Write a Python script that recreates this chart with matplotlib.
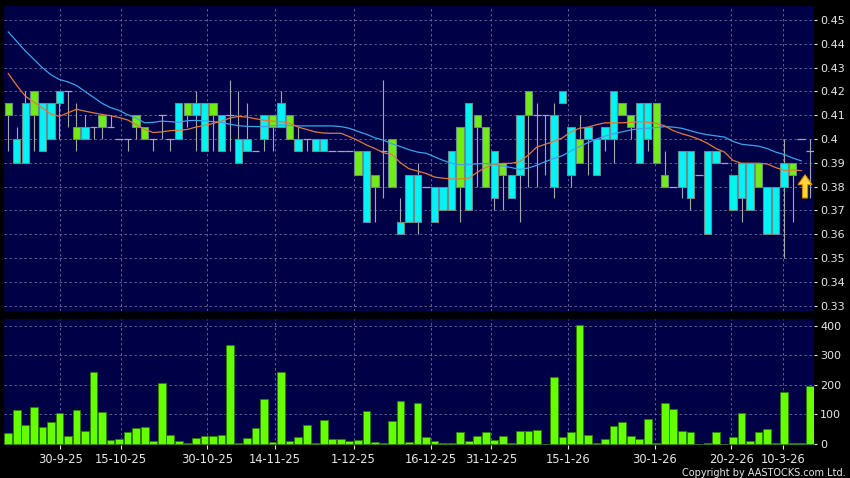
import matplotlib
matplotlib.use("Agg")
import matplotlib.pyplot as plt
from matplotlib.patches import FancyArrow
from matplotlib.ticker import FuncFormatter
import numpy as np

# daily OHLC (tick size 0.005)
opens = [.415, .39, .39, .42, .395, .40, .415, .42, .405, .40,
         .405, .41, .405, .40, .40, .41, .405, .40, .41, .40,
         .40, .415, .41, .395, .415, .395, .41, .39, .395, .395,
         .40, .41, .405, .41, .395, .40, .395, .395, .395, .395,
         .395, .395, .365, .385, .395, .40, .36, .365, .365, .38,
         .365, .37, .37, .405, .37, .41, .405, .375, .39, .375,
         .385, .42, .41, .41, .38, .415, .385, .40, .40, .385,
         .40, .40, .415, .41, .39, .40, .415, .385, .38, .38,
         .375, .385, .36, .39, .39, .37, .375, .37, .39, .36,
         .36, .38, .39, .40, .395]
closes = [.41, .40, .415, .41, .415, .415, .42, .42, .40, .405,
          .405, .405, .405, .40, .40, .405, .40, .40, .41, .40,
          .415, .41, .415, .415, .41, .41, .41, .40, .40, .395,
          .41, .405, .415, .40, .40, .40, .40, .40, .395, .395,
          .395, .385, .395, .38, .395, .38, .365, .385, .385, .38,
          .38, .38, .395, .38, .415, .405, .38, .395, .385, .385,
          .41, .41, .41, .41, .41, .42, .405, .39, .405, .40,
          .405, .42, .41, .405, .415, .415, .39, .38, .38, .395,
          .395, .385, .395, .395, .39, .385, .39, .39, .38, .38,
          .38, .39, .385, .40, .395]
highs = [.415, .405, .42, .42, .415, .415, .42, .42, .415, .41,
         .405, .41, .41, .40, .40, .41, .405, .40, .41, .40,
         .415, .415, .42, .415, .415, .41, .425, .42, .415, .395,
         .41, .41, .42, .41, .405, .40, .40, .40, .395, .395,
         .395, .395, .395, .385, .425, .40, .375, .385, .39, .38,
         .38, .38, .395, .405, .415, .41, .405, .395, .39, .385,
         .41, .42, .415, .41, .415, .42, .405, .41, .405, .40,
         .405, .42, .415, .41, .415, .415, .415, .395, .38, .395,
         .395, .385, .395, .395, .39, .385, .39, .39, .39, .38,
         .38, .40, .39, .40, .40]
lows = [.395, .39, .39, .395, .395, .40, .40, .405, .395, .40,
        .40, .40, .405, .40, .395, .40, .40, .395, .40, .395,
        .40, .405, .395, .395, .395, .395, .395, .39, .395, .395,
        .395, .395, .405, .40, .395, .395, .395, .395, .395, .395,
        .395, .385, .365, .365, .375, .38, .36, .365, .36, .38,
        .365, .37, .37, .365, .37, .38, .38, .37, .37, .375,
        .365, .38, .38, .385, .375, .415, .38, .39, .385, .385,
        .395, .39, .41, .40, .39, .395, .39, .38, .38, .375,
        .37, .385, .36, .39, .39, .37, .365, .37, .38, .36,
        .36, .35, .365, .40, .375]

# moving averages as drawn (last bar has none)
ma_long = [.4450, .4410, .4370, .4335, .4300, .4270, .4250, .4240, .4225, .4200,
           .4175, .4150, .4132, .4120, .4102, .4088, .4068, .4070, .4075, .4073,
           .4070, .4077, .4078, .4076, .4073, .4070, .4062, .4056, .4053, .4052,
           .4052, .4056, .4058, .4057, .4055, .4055, .4055, .4055, .4055, .4052,
           .4045, .4032, .4020, .4005, .3995, .3980, .3968, .3955, .3945, .3940,
           .3925, .3910, .3898, .3892, .3893, .3896, .3897, .3893, .3886, .3880,
           .3872, .3878, .3890, .3905, .3918, .3930, .3950, .3968, .3985, .4000,
           .4012, .4022, .4030, .4038, .4043, .4045, .4048, .4052, .4050, .4045,
           .4035, .4025, .4018, .4013, .4008, .3990, .3978, .3974, .3970, .3960,
           .3945, .3935, .3920, .3908]
ma_short = [.4275, .4225, .4180, .4155, .4130, .4105, .4095, .4110, .4125, .4117,
            .4110, .4103, .4098, .4090, .4080, .4060, .4040, .4027, .4030, .4035,
            .4037, .4040, .4050, .4057, .4065, .4075, .4088, .4095, .4092, .4085,
            .4079, .4075, .4072, .4067, .4050, .4040, .4030, .4025, .4024, .4024,
            .4010, .3994, .3975, .3960, .3942, .3935, .3900, .3875, .3865, .3855,
            .3840, .3835, .3832, .3832, .3835, .3860, .3880, .3895, .3897, .3898,
            .3905, .3933, .3966, .3978, .3990, .4005, .4030, .4045, .4050, .4060,
            .4068, .4068, .4068, .4070, .4073, .4070, .4066, .4055, .4035, .4022,
            .4012, .3999, .3982, .3960, .3945, .3910, .3898, .3898, .3898, .3895,
            .3880, .3868, .3870, .3867]

# volume ('000 shares)
volume = [37, 116, 64, 124, 56, 75, 103, 25, 114, 43,
          245, 109, 14, 17, 38, 52, 57, 10, 205, 28,
          10, 2, 20, 27, 25, 31, 335, 2, 20, 52,
          153, 5, 245, 10, 23, 65, 2, 82, 17, 17,
          9, 13, 112, 6, 2, 76, 146, 6, 139, 24,
          10, 2, 2, 38, 8, 27, 39, 14, 27, 2,
          42, 42, 48, 0, 226, 21, 41, 403, 30, 2,
          17, 59, 73, 27, 16, 84, 2, 137, 119, 42,
          38, 0, 3, 39, 0, 21, 105, 9, 38, 49,
          2, 174, 3, 1, 195]

date_labels = ["30-9-25", "15-10-25", "30-10-25", "14-11-25", "1-12-25", "16-12-25",
               "31-12-25", "15-1-26", "30-1-26", "20-2-26", "10-3-26"]
date_pos = [6.1, 13.2, 23.3, 31.3, 40.5, 49.6, 56.6, 65.7, 75.8, 84.8, 90.9]

price_ticks = [0.33, 0.34, 0.35, 0.36, 0.37, 0.38, 0.39, 0.40, 0.41, 0.42, 0.43, 0.44, 0.45]
vol_ticks = [0, 100, 200, 300, 400]

BG = "#000046"
GRID = "#6c6c9c"
CYAN = "#00f4f4"
LIME = "#70ee14"
VOLG = "#66ff00"
TXT = "#e8e8e8"

o = np.array(opens)
c = np.array(closes)
h = np.array(highs)
l = np.array(lows)
x = np.arange(len(o))

fig = plt.figure(figsize=(8.5, 4.78), dpi=100, facecolor="black")
ax1 = fig.add_axes([4 / 850, 1 - 311 / 478, 810 / 850, 305 / 478])
ax2 = fig.add_axes([4 / 850, 1 - 444.5 / 478, 810 / 850, 125.5 / 478])

for ax in (ax1, ax2):
    ax.set_facecolor(BG)
    for s in ax.spines.values():
        s.set_visible(False)
    ax.set_xlim(-0.5, len(o) - 0.5)
    ax.set_xticks(date_pos)
    ax.grid(True, color=GRID, linestyle=(0, (3, 3)), linewidth=0.6)
    ax.set_axisbelow(True)
    ax.yaxis.tick_right()
    ax.tick_params(axis="y", colors=TXT, labelsize=8, length=2.5, width=0.8, pad=2)

# candles
wick = h > l
ax1.vlines(x[wick], l[wick], h[wick], color="#a8a8a8", linewidth=0.8, zorder=2)
flat = o == c
ax1.hlines(c[flat], x[flat] - 0.45, x[flat] + 0.45, color="#a8a8a8", linewidth=0.9, zorder=3)
body = ~flat
cols = np.where(c > o, CYAN, LIME)
ax1.bar(x[body], np.abs(c - o)[body], bottom=np.minimum(o, c)[body], width=0.86,
        color=cols[body], edgecolor="#708a8a", linewidth=0.8, zorder=3)

# moving averages
ax1.plot(np.arange(len(ma_long)), ma_long, color="#3ea2ea", linewidth=0.9, zorder=4)
ax1.plot(np.arange(len(ma_short)), ma_short, color="#e07a3c", linewidth=0.9, zorder=4)

# latest-price arrow
ax1.add_patch(FancyArrow(len(o) - 1.55, c[-3] - 0.0098, 0, 0.0098, width=0.6,
                         head_width=1.65, head_length=0.0042, length_includes_head=True,
                         facecolor="#ffd63a", edgecolor="#d88a00", linewidth=0.8, zorder=5))

ax1.set_ylim(0.3277, 0.4559)
ax1.set_yticks(price_ticks)
ax1.yaxis.set_major_formatter(FuncFormatter(lambda v, p: "%g" % round(v, 2)))
ax1.tick_params(axis="x", length=0, labelbottom=False)

# volume
ax2.bar(x, volume, width=0.9, color=VOLG, edgecolor="#2f7a00", linewidth=0.6, zorder=3)
ax2.set_ylim(-3, 424)
ax2.set_yticks(vol_ticks)
ax2.set_xticklabels(date_labels)
ax2.tick_params(axis="x", colors=TXT, labelsize=8.3, length=3, width=0.8, pad=3)

fig.text(846 / 850, 1 - 472.5 / 478, "Copyright by AASTOCKS.com Ltd.", color=TXT,
         fontsize=7, ha="right", va="center")

fig.savefig("out.png", dpi=100, facecolor="black")
